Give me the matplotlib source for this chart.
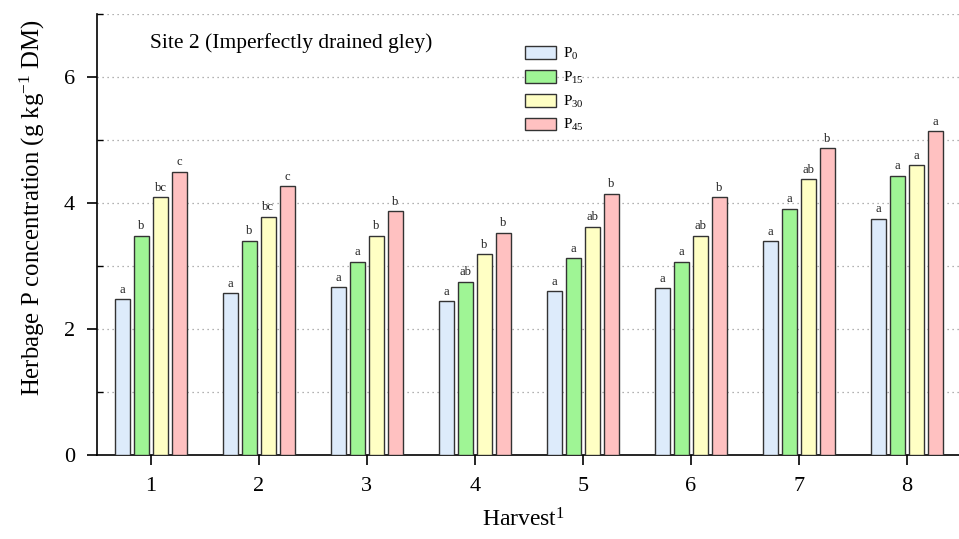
import matplotlib
matplotlib.use("Agg")
import matplotlib.pyplot as plt
import numpy as np
from matplotlib.ticker import MultipleLocator

plt.rcParams['font.family'] = ['Liberation Serif', 'DejaVu Serif']
plt.rcParams['mathtext.fontset'] = 'custom'
plt.rcParams['mathtext.rm'] = 'Liberation Serif'
plt.rcParams['mathtext.it'] = 'Liberation Serif'

harvests = [1, 2, 3, 4, 5, 6, 7, 8]
series_names = ['P$_{0}$', 'P$_{15}$', 'P$_{30}$', 'P$_{45}$']
p0 = [2.47, 2.57, 2.66, 2.44, 2.60, 2.65, 3.39, 3.75]
p15 = [3.48, 3.40, 3.07, 2.75, 3.12, 3.07, 3.91, 4.43]
p30 = [4.09, 3.78, 3.48, 3.19, 3.62, 3.48, 4.38, 4.60]
p45 = [4.50, 4.27, 3.87, 3.53, 4.15, 4.09, 4.87, 5.14]
letters_p0 = ['a', 'a', 'a', 'a', 'a', 'a', 'a', 'a']
letters_p15 = ['b', 'b', 'a', 'ab', 'a', 'a', 'a', 'a']
letters_p30 = ['bc', 'bc', 'b', 'b', 'ab', 'ab', 'ab', 'a']
letters_p45 = ['c', 'c', 'b', 'b', 'b', 'b', 'b', 'a']

series = [p0, p15, p30, p45]
letters = [letters_p0, letters_p15, letters_p30, letters_p45]
colors = ['#ddebfb', '#9ff595', '#ffffc4', '#ffc1c1']

fig = plt.figure(figsize=(9.59, 5.39), dpi=100)
ax = fig.add_axes([97/959, 1-455/539, 1-97/959, (455-14)/539])

x = np.array(harvests, dtype=float)
pitch = 0.176
width = 0.141
for i, (vals, labs, c, name) in enumerate(zip(series, letters, colors, series_names)):
    xs = x + (i - 1.5) * pitch
    ax.bar(xs, vals, width=width, color=c, edgecolor='#333333', linewidth=1.0,
           label=name, zorder=3)
    for xi, v, l in zip(xs, vals, labs):
        ax.annotate(l, (xi, v), xytext=(0, 2.5), textcoords='offset points',
                    ha='center', va='bottom', fontsize=9, color='#222222', zorder=4)

ax.set_xlim(0.5, 8.485)
ax.set_ylim(0, 7)
ax.set_xticks(harvests)
ax.set_yticks([0, 2, 4, 6])
ax.yaxis.set_minor_locator(MultipleLocator(1))
ax.tick_params(axis='both', which='major', labelsize=16, direction='out', length=7, width=1.2)
ax.tick_params(axis='y', which='minor', direction='in', length=4, width=1.0)
ax.tick_params(axis='x', which='major', pad=9)
ax.tick_params(axis='y', which='major', pad=9)

for yv in range(1, 8):
    ax.axhline(yv, color='#999999', linestyle=(0, (1, 3)), linewidth=0.9, zorder=1)

for s in ['top', 'right']:
    ax.spines[s].set_visible(False)
for s in ['left', 'bottom']:
    ax.spines[s].set_linewidth(1.2)

ax.set_ylabel('Herbage P concentration (g kg$^{-1}$ DM)', fontsize=17.8)
ax.yaxis.set_label_coords(-0.058, 0.56)
ax.set_xlabel('Harvest$^{1}$', fontsize=17)
ax.xaxis.set_label_coords((523-97)/862, -(508-455)/441)

ax.text(150/959, 1-43/539, 'Site 2 (Imperfectly drained gley)', transform=fig.transFigure,
        fontsize=15.5, ha='left', va='center')

leg = ax.legend(loc='upper left', bbox_to_anchor=(519/959, 1-40/539),
                bbox_transform=fig.transFigure, frameon=False, fontsize=11,
                handlelength=2.0, handleheight=0.9, labelspacing=0.5,
                handletextpad=0.5, borderaxespad=0)

fig.savefig('out.png', dpi=100)
